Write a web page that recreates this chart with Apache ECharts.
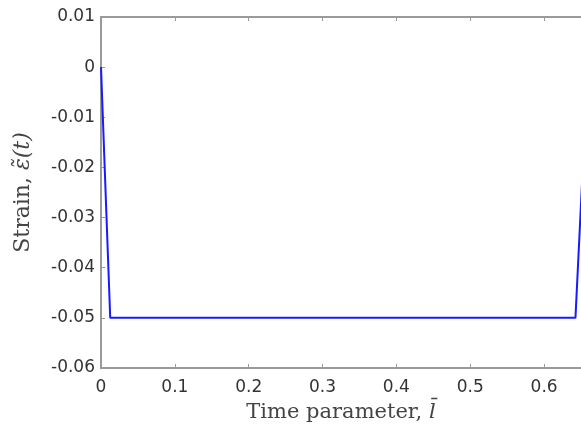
<!DOCTYPE html>
<html>
<head>
<meta charset="utf-8">
<script src="https://cdn.jsdelivr.net/npm/echarts@6/dist/echarts.min.js"></script>
<style>
  html, body { margin: 0; padding: 0; background: #fff; }
  #chart { width: 581px; height: 439px; }
</style>
</head>
<body>
<div id="chart"></div>
<script>
// Strain history: ramp down, hold, ramp back up
const timeValues = [0, 0.0125, 0.6425, 0.659];
const strainValues = [0, -0.05, -0.05, 0];

const xTickLabels = ['0', '0.1', '0.2', '0.3', '0.4', '0.5', '0.6'];
const yTickLabels = ['-0.06', '-0.05', '-0.04', '-0.03', '-0.02', '-0.01', '0', '0.01'];

const X_MIN = 0, X_MAX = 0.65, X_STEP = 0.1;
const Y_MIN = -0.06, Y_MAX = 0.01, Y_STEP = 0.01;

const axisGray = '#9a9a9a';
const labelColor = '#333';
const tickFont = 'DejaVu Sans';
const nameFont = 'DejaVu Serif';

function xLabel(v) {
  const i = Math.round((v - X_MIN) / X_STEP);
  if (Math.abs(v - (X_MIN + i * X_STEP)) > 1e-9) return '';
  return xTickLabels[i] !== undefined ? xTickLabels[i] : '';
}
function yLabel(v) {
  const i = Math.round((v - Y_MIN) / Y_STEP);
  return yTickLabels[i] !== undefined ? yTickLabels[i] : '';
}

const chart = echarts.init(document.getElementById('chart'), null, { renderer: 'canvas' });

const commonX = {
  type: 'value', min: X_MIN, max: X_MAX, interval: X_STEP,
  splitLine: { show: false },
  axisLine: { show: true, onZero: false, lineStyle: { color: axisGray, width: 2 } },
  axisTick: { show: true, inside: true, length: 4, lineStyle: { color: axisGray, width: 1 } }
};

chart.setOption({
  animation: false,
  backgroundColor: '#fff',
  grid: { left: 101, right: 0, top: 17, bottom: 71, containLabel: false },
  xAxis: [
    Object.assign({}, commonX, {
      position: 'bottom',
      name: 'Time parameter, {i|l\u0304}',
      nameLocation: 'middle',
      nameGap: 34,
      nameTextStyle: {
        fontFamily: nameFont, fontSize: 21, color: '#444',
        rich: { i: { fontFamily: nameFont, fontStyle: 'italic', fontSize: 21, color: '#444' } }
      },
      axisLabel: {
        show: true, margin: 11, formatter: xLabel, showMaxLabel: false,
        fontFamily: tickFont, fontSize: 17, color: labelColor
      }
    }),
    Object.assign({}, commonX, {
      position: 'top',
      axisLabel: { show: false }
    })
  ],
  yAxis: {
    type: 'value', min: Y_MIN, max: Y_MAX, interval: Y_STEP,
    splitLine: { show: false },
    axisLine: { show: true, onZero: false, lineStyle: { color: axisGray, width: 2 } },
    axisTick: { show: true, inside: true, length: 4, lineStyle: { color: axisGray, width: 1 } },
    axisLabel: {
      margin: 6, formatter: yLabel,
      fontFamily: tickFont, fontSize: 17, color: labelColor
    },
    name: 'Strain, {i|\u03b5\u0303(t)}',
    nameLocation: 'middle',
    nameGap: 67,
    nameTextStyle: {
      fontFamily: nameFont, fontSize: 22, color: '#444',
      rich: { i: { fontFamily: nameFont, fontStyle: 'italic', fontSize: 22, color: '#444' } }
    }
  },
  series: [{
    type: 'line',
    xAxisIndex: 0,
    data: timeValues.map((t, i) => [t, strainValues[i]]),
    showSymbol: false,
    clip: true,
    lineStyle: { color: '#1a1aff', width: 2 }
  }]
});
</script>
</body>
</html>
